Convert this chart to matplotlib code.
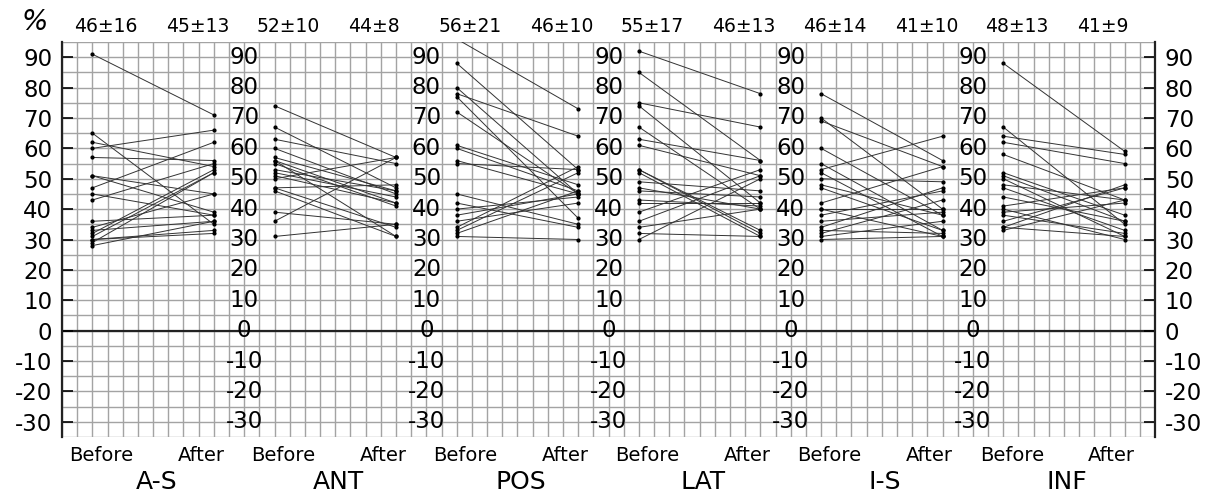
import numpy as np
import matplotlib
matplotlib.use('Agg')
import matplotlib.pyplot as plt

plt.rcParams['font.family'] = ['DejaVu Sans']

# panel names and header stats
panels = ['A-S', 'ANT', 'POS', 'LAT', 'I-S', 'INF']
before_stats = ['46±16', '52±10', '56±21', '55±17', '46±14', '48±13']
after_stats = ['45±13', '44±8', '46±10', '46±13', '41±10', '41±9']

# paired values (%)
as_before = [91, 65, 62, 60, 57, 51, 51, 47, 45, 43, 36, 34, 33, 32, 31, 30, 30, 29, 28]
as_after = [71, 35, 54, 66, 56, 45, 39, 62, 38, 55, 38, 45, 36, 53, 52, 33, 32, 52, 36]

ant_before = [74, 67, 63, 60, 56, 56, 57, 52, 51, 50, 47, 47, 46, 39, 36, 31, 53, 55]
ant_after = [57, 47, 55, 45, 42, 31, 46, 44, 42, 57, 48, 34, 31, 35, 57, 35, 46, 41]

pos_before = [96, 88, 80, 78, 77, 72, 61, 60, 56, 55, 45, 42, 40, 38, 36, 34, 33, 32, 31]
pos_after = [73, 53, 45, 64, 37, 45, 48, 46, 45, 53, 35, 34, 44, 45, 42, 54, 52, 46, 30]

lat_before = [92, 85, 75, 74, 67, 63, 61, 53, 53, 52, 49, 47, 46, 43, 42, 39, 36, 34, 32, 30]
lat_after = [78, 56, 67, 42, 40, 56, 51, 33, 32, 31, 46, 40, 44, 41, 42, 53, 51, 40, 31, 50]

is_before = [78, 70, 69, 60, 55, 53, 52, 50, 47, 42, 40, 40, 38, 36, 34, 33, 32, 31, 30, 48]
is_after = [56, 40, 54, 38, 33, 64, 31, 49, 33, 54, 40, 31, 46, 39, 47, 32, 43, 36, 31, 38]

inf_before = [88, 67, 64, 62, 58, 52, 51, 50, 48, 47, 44, 41, 40, 39, 38, 36, 34, 34, 33]
inf_after = [59, 35, 58, 55, 43, 38, 36, 31, 43, 33, 36, 47, 30, 42, 32, 47, 48, 31, 43]

pairs = [(as_before, as_after), (ant_before, ant_after), (pos_before, pos_after),
         (lat_before, lat_after), (is_before, is_after), (inf_before, inf_after)]

yticks = [90, 80, 70, 60, 50, 40, 30, 20, 10, 0, -10, -20, -30]

fig = plt.figure(figsize=(12.07, 4.92), dpi=100)
ax = fig.add_axes([0.0514, 0.1118, 0.9056, 0.8028])

W = 12  # grid cells per panel
ax.set_xlim(0, W * len(panels))
ax.set_ylim(-35, 95)

# grid
for gx in range(0, W * len(panels) + 1):
    ax.axvline(gx, color='#a3a3a3', lw=1.0, zorder=0)
for gy in range(-35, 96, 5):
    ax.axhline(gy, color='#a3a3a3', lw=1.0, zorder=0)
ax.axhline(0, color='#222222', lw=1.6, zorder=1)

for i, (b, a) in enumerate(pairs):
    x0 = i * W
    xb, xa = x0 + 2, x0 + 10
    for vb, va in zip(b, a):
        ax.plot([xb, xa], [vb, va], color='#333333', lw=0.7, zorder=3)
    ax.scatter([xb] * len(b), b, s=4, color='black', zorder=4)
    ax.scatter([xa] * len(a), a, s=4, color='black', zorder=4)

    # header stats
    ax.text(x0 + 0.8, 1.04, before_stats[i], transform=ax.get_xaxis_transform(),
            ha='left', va='center', fontsize=13.5)
    ax.text(x0 + 6.85, 1.04, after_stats[i], transform=ax.get_xaxis_transform(),
            ha='left', va='center', fontsize=13.5)
    # Before / After
    ax.text(x0 + 0.45, -0.047, 'Before', transform=ax.get_xaxis_transform(),
            ha='left', va='center', fontsize=14)
    ax.text(x0 + 7.6, -0.047, 'After', transform=ax.get_xaxis_transform(),
            ha='left', va='center', fontsize=14)
    ax.text(x0 + 6.2, -0.113, panels[i], transform=ax.get_xaxis_transform(),
            ha='center', va='center', fontsize=18, fontweight='medium')

    # inner y labels on panel boundaries
    if i > 0:
        for t in yticks:
            ax.text(x0, t, str(t), ha='center', va='center', fontsize=16.5, zorder=5)

ax.set_xticks([])
ax.set_yticks(yticks)
ax.set_yticklabels([str(t) for t in yticks])
ax.tick_params(axis='y', direction='in', length=8, width=1.2, labelsize=16.5,
               left=True, right=True, labelleft=True, labelright=True, pad=7)
for s in ['top', 'bottom']:
    ax.spines[s].set_visible(False)
for s in ['left', 'right']:
    ax.spines[s].set_linewidth(1.6)
    ax.spines[s].set_color('#222222')

fig.text(0.029, 0.955, '%', ha='center', va='center', fontsize=20, style='italic')

fig.savefig('out.png', dpi=100, facecolor='white')
